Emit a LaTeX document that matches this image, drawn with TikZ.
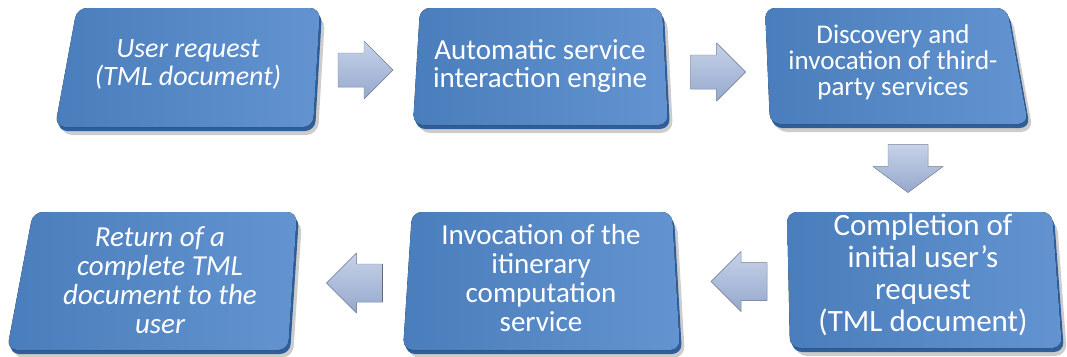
\documentclass[tikz,border=0pt]{standalone}
\usepackage{fontspec}
\setmainfont{Carlito}
\usetikzlibrary{calc}
\definecolor{boxblue}{HTML}{4A7DBB}
\definecolor{boxlight}{HTML}{6394D1}
\definecolor{boxrim}{HTML}{2F5E98}
\definecolor{arrowtop}{HTML}{C6D2E9}
\definecolor{arrowbot}{HTML}{95A8CC}
\tikzset{
  face/.style={rounded corners=10pt,left color=boxblue,right color=boxlight},
  rim/.style={rounded corners=10pt,fill=boxrim,xshift=2pt,yshift=-4pt},
  boxshadow/.style={rounded corners=12pt,fill=black,opacity=.2,xshift=5pt,yshift=-8pt},
  boxtext/.style={text=white,align=center,inner sep=0pt},
  blockarrow/.style={draw=arrowbot!80!black,line width=.4pt,
    top color=arrowtop,bottom color=arrowbot}
}
\begin{document}
\begin{tikzpicture}[x=1pt,y=-1pt]
\useasboundingbox (0,0) rectangle (1067,356);
\fill[boxshadow] (77,8)--(320,8)--(313,127)--(55,127)--cycle;
\fill[boxshadow] (420,8)--(662,8)--(668,125)--(413,125)--cycle;
\fill[boxshadow] (765,8)--(1007,8)--(1028,124)--(770,124)--cycle;
\fill[boxshadow] (33,212)--(297,212)--(288,350)--(7,350)--cycle;
\fill[boxshadow] (412,212)--(672,212)--(680,350)--(403,350)--cycle;
\fill[boxshadow] (787,212)--(1052,212)--(1062,348)--(790,348)--cycle;
\fill[rim] (77,8)--(320,8)--(313,127)--(55,127)--cycle;
\fill[rim] (420,8)--(662,8)--(668,125)--(413,125)--cycle;
\fill[rim] (765,8)--(1007,8)--(1028,124)--(770,124)--cycle;
\fill[rim] (33,212)--(297,212)--(288,350)--(7,350)--cycle;
\fill[rim] (412,212)--(672,212)--(680,350)--(403,350)--cycle;
\fill[rim] (787,212)--(1052,212)--(1062,348)--(790,348)--cycle;
\fill[face] (77,8)--(320,8)--(313,127)--(55,127)--cycle;
\fill[face] (420,8)--(662,8)--(668,125)--(413,125)--cycle;
\fill[face] (765,8)--(1007,8)--(1028,124)--(770,124)--cycle;
\fill[face] (33,212)--(297,212)--(288,350)--(7,350)--cycle;
\fill[face] (412,212)--(672,212)--(680,350)--(403,350)--cycle;
\fill[face] (787,212)--(1052,212)--(1062,348)--(790,348)--cycle;
\node[boxtext,font=\fontsize{28}{28}\selectfont\itshape] (request) at (188,64) {User request\\(TML document)};
\node[boxtext,font=\fontsize{29}{28}\selectfont] (engine) at (540,66) {Automatic service\\interaction engine};
\node[boxtext,font=\fontsize{27}{26}\selectfont] (discovery) at (893,62) {Discovery and\\invocation of third-\\party services};
\node[boxtext,font=\fontsize{31}{32}\selectfont] (completion) at (923,275) {Completion of\\initial user’s\\request\\(TML document)};
\node[boxtext,font=\fontsize{29}{29}\selectfont] (itinerary) at (541,278) {Invocation of the\\itinerary\\computation\\service};
\node[boxtext,font=\fontsize{29}{29}\selectfont\itshape] (return) at (160,280) {Return of a\\complete TML\\document to the\\user};
\coordinate (a1) at ($(request)!.5!(engine)+(0,5)$);
\coordinate (a2) at ($(engine)!.5!(discovery)+(0,8)$);
\coordinate (a3) at ($(discovery)!.5!(completion)$);
\coordinate (a4) at ($(completion)!.5!(itinerary)+(5,5)$);
\coordinate (a5) at ($(itinerary)!.5!(return)+(2,4)$);
\filldraw[blockarrow] ([shift={(-26,-17)}]a1)--++(26,0)--++(0,-12)--++(29,29)--++(-29,29)--++(0,-12)--++(-26,0)--cycle;
\filldraw[blockarrow] ([shift={(-26,-17)}]a2)--++(26,0)--++(0,-12)--++(29,29)--++(-29,29)--++(0,-12)--++(-26,0)--cycle;
\filldraw[blockarrow] ([shift={(-20,-24)}]a3)--++(0,22)--++(-15,0)--++(35,26)--++(35,-26)--++(-15,0)--++(0,-22)--cycle;
\filldraw[blockarrow] ([shift={(30,-19)}]a4)--++(-26,0)--++(0,-11)--++(-30,30)--++(30,30)--++(0,-11)--++(26,0)--cycle;
\filldraw[blockarrow] ([shift={(30,-19)}]a5)--++(-26,0)--++(0,-11)--++(-30,30)--++(30,30)--++(0,-11)--++(26,0)--cycle;
\end{tikzpicture}
\end{document}
